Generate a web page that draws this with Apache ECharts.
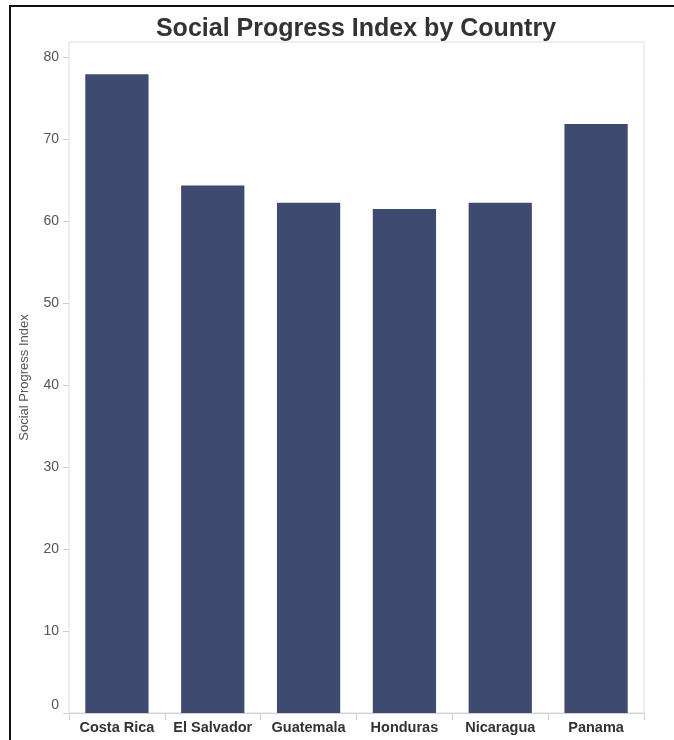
<!DOCTYPE html>
<html>
<head>
<meta charset="utf-8">
<script src="https://cdn.jsdelivr.net/npm/echarts@6/dist/echarts.min.js"></script>
<style>
  html, body { margin: 0; padding: 0; background: #fff; overflow: hidden; }
  #frame { position: absolute; left: 9px; top: 5px; width: 720px; height: 800px; border: 2px solid #111; }
  #chart { position: absolute; left: 0; top: 0; width: 674px; height: 740px; }
</style>
</head>
<body>
<div id="frame"></div>
<div id="chart"></div>
<script>
  // data
  var countries = ['Costa Rica', 'El Salvador', 'Guatemala', 'Honduras', 'Nicaragua', 'Panama']
  var spiValues = [77.88, 64.31, 62.19, 61.44, 62.20, 71.79]
  var yTicks = [0, 10, 20, 30, 40, 50, 60, 70, 80]

  var chart = echarts.init(document.getElementById('chart'))

  chart.setOption({
    backgroundColor: 'transparent',
    animation: false,
    title: {
      text: 'Social Progress Index by Country',
      left: 351,
      textAlign: 'center',
      top: 12,
      textStyle: {
        fontFamily: 'Liberation Sans',
        fontWeight: 'bold',
        fontSize: 25,
        color: '#333'
      }
    },
    grid: {
      left: 69,
      right: 30,
      top: 42,
      bottom: 27,
      show: true,
      borderColor: '#dedede',
      borderWidth: 1
    },
    xAxis: {
      type: 'category',
      data: countries,
      axisLine: { lineStyle: { color: '#d0d0d0' } },
      axisTick: { show: true, alignWithLabel: false, length: 7, lineStyle: { color: '#d0d0d0' } },
      axisLabel: {
        margin: 7,
        fontFamily: 'Liberation Sans',
        fontWeight: 'bold',
        fontSize: 14.5,
        color: '#333',
        interval: 0
      }
    },
    yAxis: {
      type: 'value',
      min: 0,
      max: 81.8,
      interval: 10,
      name: 'Social Progress Index',
      nameLocation: 'middle',
      nameGap: 38,
      nameTextStyle: {
        fontFamily: 'Liberation Sans',
        fontSize: 13,
        color: '#555'
      },
      splitLine: { show: false },
      axisLine: { show: false },
      axisTick: {
        show: true,
        length: 6,
        lineStyle: { color: '#cfcfcf' },
        customValues: yTicks
      },
      axisLabel: {
        margin: 10,
        fontFamily: 'Liberation Sans',
        fontSize: 14,
        color: '#555',
        customValues: yTicks,
        formatter: function (v) {
          // tableau lifts the bottom label off the baseline
          return v === 0 ? '{z|0}' : String(v)
        },
        rich: {
          z: { fontSize: 14, color: '#555', padding: [0, 0, 16, 0] }
        }
      }
    },
    series: [{
      type: 'bar',
      data: spiValues,
      barWidth: '66%',
      itemStyle: {
        color: '#3e4a6f'
      }
    }]
  })
</script>
</body>
</html>
